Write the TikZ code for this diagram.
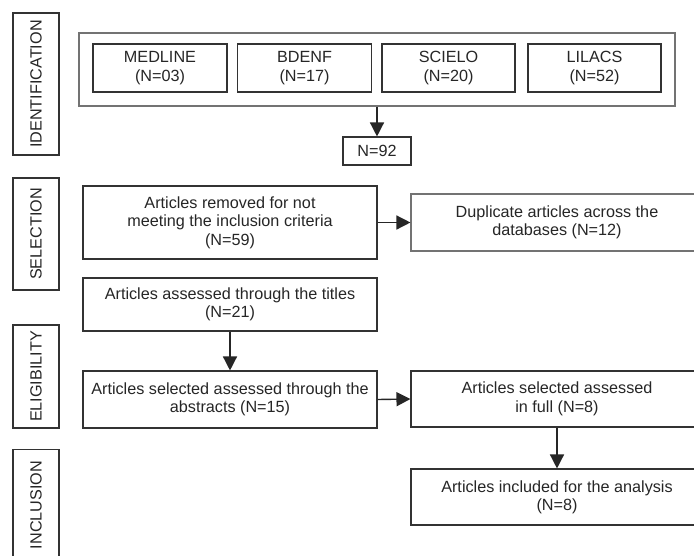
\documentclass[tikz,border=0pt]{standalone}
\usepackage{fontspec}
\setmainfont{Liberation Sans}
\usetikzlibrary{arrows.meta}
\begin{document}
\begin{tikzpicture}[x=1pt,y=-1pt,
  box/.style={draw=black!80,line width=1.1pt,rectangle,inner sep=0pt,align=center,
    font=\fontsize{16.2}{18.4}\selectfont,text=black!85},
  lightbox/.style={box,draw=black!55},
  sidebox/.style={box,minimum width=46pt},
  arr/.style={line width=1.4pt,draw=black!85,-{Triangle[width=14pt,length=14pt]}}]
\clip (0,0) rectangle (694,555);
\fill[white] (0,0) rectangle (694,555);
% side labels
\node[sidebox,minimum height=142pt] (ident) at (36,84) {\rotatebox{90}{IDENTIFICATION}};
\node[sidebox,minimum height=112pt] (sel) at (36,234) {\rotatebox{90}{SELECTION}};
\node[sidebox,minimum height=103pt] (elig) at (36,376.5) {\rotatebox{90}{ELIGIBILITY}};
\node[sidebox,minimum height=111pt,anchor=north] (incl) at (36,449) {\rotatebox{90}{INCLUSION}}; 
% identification
\node[lightbox,minimum width=596pt,minimum height=73pt] (outer) at (377,69.5) {};
\node[box,minimum width=134pt,minimum height=48pt] (medline) at (160,68) {MEDLINE\\(N=03)};
\node[box,minimum width=134pt,minimum height=48pt] (bdenf) at (304.5,68) {BDENF\\(N=17)};
\node[box,minimum width=133pt,minimum height=48pt] (scielo) at (448.5,68) {SCIELO\\(N=20)};
\node[box,minimum width=133pt,minimum height=48pt] (lilacs) at (594.5,68) {LILACS\\(N=52)};
\node[box,minimum width=68pt,minimum height=28pt] (n92) at (377,151) {N=92};
% selection
\node[box,minimum width=294pt,minimum height=73pt] (removed) at (230,222.5) {Articles removed for not\\meeting the inclusion criteria\\(N=59)};
\node[lightbox,minimum width=292pt,minimum height=57pt] (dup) at (557,222.5) {Duplicate articles across the\\databases (N=12)};
\node[box,minimum width=294pt,minimum height=53pt] (titles) at (230,304.5) {Articles assessed through the titles\\(N=21)};
% eligibility
\node[box,minimum width=294pt,minimum height=57pt] (abstracts) at (230,399.5) {Articles selected assessed through the\\abstracts (N=15)};
\node[box,minimum width=292pt,minimum height=56pt] (full) at (557,399) {Articles selected assessed\\in full (N=8)};
% inclusion
\node[box,minimum width=292pt,minimum height=56pt] (included) at (557,497) {Articles included for the analysis\\(N=8)};
% arrows
\draw[arr] (outer.south) -- (n92.north);
\draw[arr] (removed.east) -- (dup.west);
\draw[arr] (titles.south) -- (abstracts.north);
\draw[arr] (abstracts.east) -- (full.west);
\draw[arr] (full.south) -- (included.north);
\end{tikzpicture}
\end{document}
